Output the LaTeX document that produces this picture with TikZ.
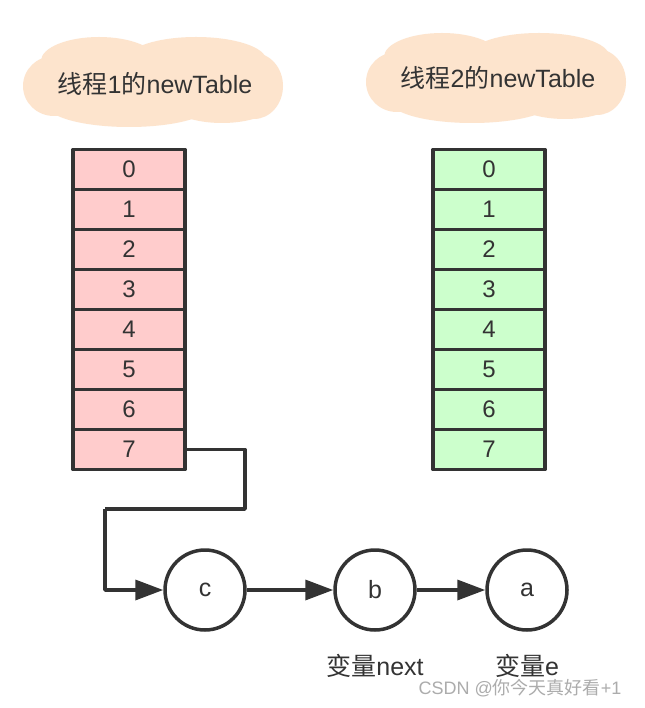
\documentclass[tikz,border=0pt]{standalone}
\usepackage{fontspec}
\setmainfont{Liberation Sans}
\newfontfamily\cjk{Noto Sans CJK SC}
\usetikzlibrary{arrows.meta}

\definecolor{inkgray}{HTML}{333333}
\definecolor{rowpink}{HTML}{FFCCCC}
\definecolor{rowgreen}{HTML}{CCFFCC}
\definecolor{cloudpeach}{HTML}{FDE4CD}

\begin{document}
\begin{tikzpicture}[
  x=1pt,
  y=-1pt,
  line join=round,
  slot/.style={
    draw=inkgray, line width=3.5pt,
    minimum width=112pt, minimum height=40pt, inner sep=0pt,
    text=inkgray, font=\fontsize{24}{24}\selectfont
  },
  entry/.style={
    circle, draw=inkgray, line width=3.5pt,
    minimum size=80pt, inner sep=0pt, fill=white,
    text=inkgray, font=\fontsize{25}{25}\selectfont
  },
  caption/.style={text=inkgray, font=\fontsize{25}{25}\selectfont},
  varname/.style={text=inkgray, font=\fontsize{25}{25}\selectfont},
  link/.style={
    draw=inkgray, line width=3.5pt,
    -{Triangle[length=28pt,width=20pt]}
  }
]
  \useasboundingbox[fill=white] (0,0) rectangle (644,708);

  % Облака
  \foreach \cx/\cy in {154/82, 497/78}{
    \begin{scope}[shift={(\cx,\cy)}]
      \fill[cloudpeach] (0,0) ellipse [x radius=116, y radius=34];
      \fill[cloudpeach] (-100,4) ellipse [x radius=31, y radius=30];
      \fill[cloudpeach] (100,4) ellipse [x radius=29, y radius=33];
      \fill[cloudpeach] (-55,-21) ellipse [x radius=58, y radius=24];
      \fill[cloudpeach] (42,-22) ellipse [x radius=70, y radius=23];
      \fill[cloudpeach] (-25,23) ellipse [x radius=82, y radius=22];
      \fill[cloudpeach] (68,21) ellipse [x radius=52, y radius=20];
    \end{scope}
  }

  % Подписи облаков
  \node[caption] (titleA) at (155,84) {{\cjk 线程}1{\cjk 的}newTable};
  \node[caption] (titleB) at (498,78) {{\cjk 线程}2{\cjk 的}newTable};

  % Ячейки двух таблиц
  \foreach \i in {0,...,7}{
    \node[slot, fill=rowpink]  (left\i)  at (129,169.5+40*\i) {\i};
    \node[slot, fill=rowgreen] (right\i) at (489,169.5+40*\i) {\i};
  }

  % Узлы списка
  \node[entry] (c) at (205,590) {c};
  \node[entry] (b) at (375,590) {b};
  \node[entry] (a) at (527,590) {a};

  % Подписи переменных
  \node[varname] (nextvar) at (375,666) {{\cjk 变量}next};
  \node[varname] (evar)    at (527,666) {{\cjk 变量}e};

  % Изломы ссылки из ячейки 7
  \coordinate (bendA) at (245,509);
  \coordinate (bendB) at (105,509);

  % Ссылки
  \draw[link, -] (left7.east) -| (bendA) -- (bendB);
  \draw[link] (bendB) |- (c.west);
  \draw[link] (c) -- (b);
  \draw[link] (b) -- (a);

  % Водяной знак
  \node[text=gray!65, font=\fontsize{18}{18}\selectfont] (mark) at (520,688)
    {CSDN @{\cjk 你今天真好看}+1};
\end{tikzpicture}
\end{document}
